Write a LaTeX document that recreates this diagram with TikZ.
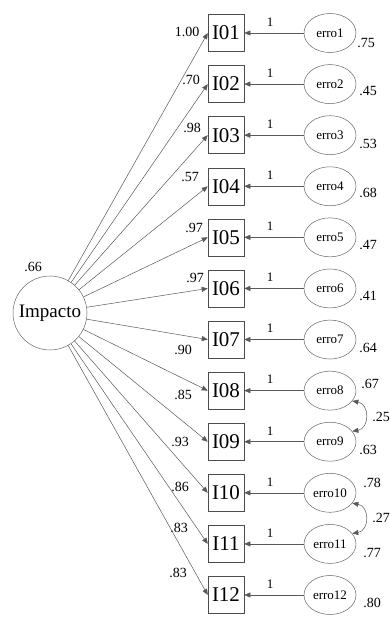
\documentclass[tikz,border=0pt]{standalone}
\usepackage{fontspec}
\setmainfont{Liberation Serif}
\usetikzlibrary{arrows.meta,shapes.geometric}
\begin{document}
\begin{tikzpicture}[x=1pt,y=-1pt,
  ind/.style={draw=black!70, line width=0.5pt, minimum width=36pt, minimum height=37pt,
    inner sep=0pt, font=\fontsize{21}{21}\selectfont},
  err/.style={draw=black!60, ellipse, line width=0.5pt, minimum width=52pt,
    minimum height=39pt, inner sep=0pt, font=\fontsize{13}{13}\selectfont},
  lat/.style={draw=black!60, circle, line width=0.5pt, minimum size=74pt, inner sep=0pt,
    font=\fontsize{19}{19}\selectfont},
  lbl/.style={font=\fontsize{14}{14}\selectfont, inner sep=0pt},
  one/.style={font=\fontsize{13}{13}\selectfont, inner sep=0pt},
  link/.style={draw=black!65, line width=0.5pt, -{Triangle[length=6pt,width=5pt]}},
  cov/.style={draw=black!65, line width=0.5pt,
    {Triangle[length=6pt,width=5pt]}-{Triangle[length=6pt,width=5pt]}},
]
\useasboundingbox (0,0) rectangle (390,618);

% latent factor
\node[lat] (imp) at (50,313) {Impacto};
\node[lbl] (impvar) at (33,267) {.66};

% indicators, their errors, loadings and error variances
\foreach \i/\t/\ld/\lx/\ly/\ev/\ex/\ey in {
  1/I01/1.00/187/32/.75/366/43,
  2/I02/.70/191/80/.45/368/91,
  3/I03/.98/192/128/.53/368/144,
  4/I04/.57/190/177/.68/368/193,
  5/I05/.97/194/228/.47/368/245,
  6/I06/.97/195/278/.41/368/296,
  7/I07/.90/183/350/.64/368/348,
  8/I08/.85/183/395/.67/370/384,
  9/I09/.93/180/442/.63/368/450,
  10/I10/.86/180/487/.78/372/483,
  11/I11/.83/179/528/.77/372/553,
  12/I12/.83/178/573/.80/372/603}{
  \pgfmathsetmacro\yy{33+51.09*(\i-1)}
  \node[ind] (b\i) at (226,\yy) {\t};
  \node[err] (e\i) at (330,\yy) {erro\i};
  \draw[link] (e\i) -- (b\i);
  \node[one] (w\i) at (270,\yy-11) {1};
  \draw[link] (imp) -- (b\i.west);
  \node[lbl] (ld\i) at (\lx,\ly) {\ld};
  \node[lbl] (ev\i) at (\ex,\ey) {\ev};
}

% error covariances
\draw[cov] (e8.-25) to[out=-10, in=10, looseness=1.5] (e9.25);
\node[lbl, anchor=east] (c89) at (390,417) {.25};
\draw[cov] (e10.-25) to[out=-10, in=10, looseness=1.5] (e11.25);
\node[lbl, anchor=east] (c1011) at (390,518) {.27};
\end{tikzpicture}
\end{document}
